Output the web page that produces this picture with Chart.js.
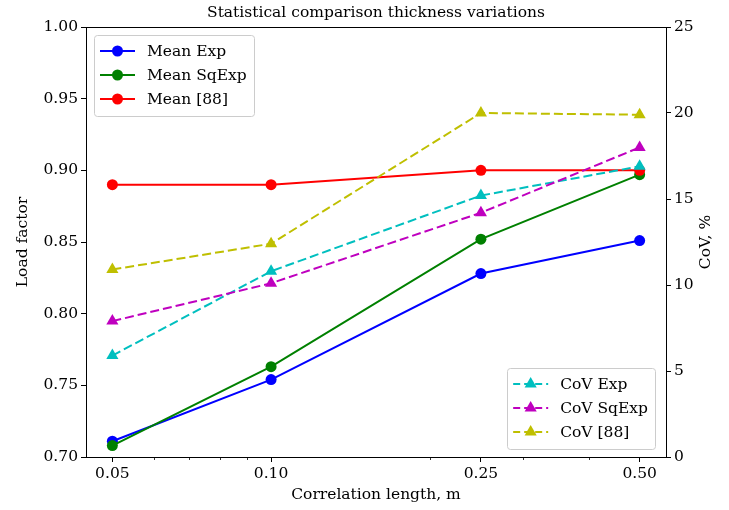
<!DOCTYPE html>
<html>
<head>
<meta charset="utf-8">
<title>Statistical comparison thickness variations</title>
<script src="https://cdn.jsdelivr.net/npm/chart.js@4.4.0/dist/chart.umd.min.js"></script>
<style>
    html, body { margin: 0; padding: 0; background: #fff; }
    #wrap { width: 729px; height: 510px; }
</style>
</head>
<body>
<div id="wrap"><canvas id="thicknessChart" width="729" height="510"></canvas></div>
<script>
'use strict';

// correlation length, m
var corrLengths = [0.05, 0.10, 0.25, 0.50];

// mean load factor
var meanExp   = [0.711, 0.754, 0.828, 0.851];
var meanSqExp = [0.708, 0.763, 0.852, 0.897];
var meanRef   = [0.890, 0.890, 0.900, 0.900];

// coefficient of variation, %
var covExp   = [5.9, 10.8, 15.2, 16.9];
var covSqExp = [7.9, 10.1, 14.2, 18.0];
var covRef   = [10.9, 12.4, 20.0, 19.9];

// tick values
var xMajorTicks = [0.05, 0.10, 0.25, 0.50];
var xMinorTicks = [0.06, 0.07, 0.08, 0.09, 0.2, 0.3, 0.4];
var loadTicks = [0.70, 0.75, 0.80, 0.85, 0.90, 0.95, 1.00];
var covTicks = [0, 5, 10, 15, 20, 25];

var FONT = "'DejaVu Serif', serif";
var FONT_SIZE = 15.5;

function toPoints(values){
    return corrLengths.map(function(x, i){ return {x: x, y: values[i]}; });
}

function meanSet(label, color, values, order){
    return {
        label: label, data: toPoints(values), yAxisID: 'y',
        borderColor: color, backgroundColor: color, borderWidth: 2,
        pointStyle: 'circle', pointRadius: 5.5, pointBorderWidth: 0,
        order: order, legendGroup: 0
    };
}

function covSet(label, color, values, order){
    return {
        label: label, data: toPoints(values), yAxisID: 'y1',
        borderColor: color, backgroundColor: color, borderWidth: 2,
        borderDash: [9, 4],
        pointStyle: 'triangle', pointRadius: 7, pointBorderWidth: 0,
        order: order, legendGroup: 1
    };
}

// frame, minor ticks, titles and the two legends
var decorPlugin = {
    id: 'decor',
    afterDraw: function(chart){
        var ctx = chart.ctx;
        var area = chart.chartArea;
        var xScale = chart.scales.x;

        ctx.save();
        ctx.strokeStyle = '#000';
        ctx.lineWidth = 1;
        ctx.strokeRect(Math.round(area.left) + 0.5, Math.round(area.top) + 0.5,
                       Math.round(area.right - area.left), Math.round(area.bottom - area.top));

        // minor ticks on the log axis
        ctx.lineWidth = 0.8;
        xMinorTicks.forEach(function(v){
            var px = Math.round(xScale.getPixelForValue(v)) + 0.5;
            ctx.beginPath();
            ctx.moveTo(px, area.bottom);
            ctx.lineTo(px, area.bottom + 3);
            ctx.stroke();
        });

        // chart title
        ctx.fillStyle = '#000';
        ctx.font = FONT_SIZE + 'px ' + FONT;
        ctx.textAlign = 'center';
        ctx.textBaseline = 'middle';
        ctx.fillText('Statistical comparison thickness variations', (area.left + area.right) / 2, area.top - 14);

        // right axis title, reading upwards
        ctx.save();
        ctx.translate(area.right + 40, (area.top + area.bottom) / 2);
        ctx.rotate(-Math.PI / 2);
        ctx.fillText('CoV, %', 0, 0);
        ctx.restore();

        var sets = chart.data.datasets;
        drawLegend(ctx, sets.filter(function(d){ return d.legendGroup === 0; }), area.left + 8, area.top + 8, false);
        drawLegend(ctx, sets.filter(function(d){ return d.legendGroup === 1; }), area.right - 11, area.bottom - 8, true);
        ctx.restore();
    }
};

function drawLegend(ctx, sets, anchorX, anchorY, fromBottomRight){
    var rowH = 24, padL = 6, handleW = 35, gap = 12, padR = 7, padV = 2;
    ctx.font = FONT_SIZE + 'px ' + FONT;
    var textW = 0;
    sets.forEach(function(d){ textW = Math.max(textW, ctx.measureText(d.label).width); });
    var w = padL + handleW + gap + textW + padR;
    var h = rowH * sets.length + padV * 2 + 5;
    var x = fromBottomRight ? anchorX - w : anchorX;
    var y = fromBottomRight ? anchorY - h : anchorY;

    ctx.fillStyle = 'rgba(255,255,255,0.8)';
    ctx.strokeStyle = '#cccccc';
    ctx.lineWidth = 1;
    ctx.beginPath();
    ctx.roundRect(Math.round(x) + 0.5, Math.round(y) + 0.5, Math.round(w), Math.round(h), 3);
    ctx.fill();
    ctx.stroke();

    sets.forEach(function(d, i){
        var cy = y + padV + 2 + rowH * i + rowH / 2;
        var hx = x + padL;
        ctx.strokeStyle = d.borderColor;
        ctx.fillStyle = d.backgroundColor;
        ctx.lineWidth = d.borderWidth;
        ctx.setLineDash(d.borderDash ? [7, 4] : []);
        ctx.beginPath();
        ctx.moveTo(hx, cy);
        ctx.lineTo(hx + handleW, cy);
        ctx.stroke();
        ctx.setLineDash([]);
        Chart.helpers.drawPoint(ctx, {
            pointStyle: d.pointStyle, rotation: 0, radius: d.pointRadius, borderWidth: 0
        }, hx + handleW / 2, cy);

        ctx.fillStyle = '#000';
        ctx.textAlign = 'left';
        ctx.textBaseline = 'middle';
        ctx.fillText(d.label, hx + handleW + gap, cy + 1);
    });
}

var tickFont = {family: FONT, size: FONT_SIZE};

var ctx = document.getElementById('thicknessChart').getContext('2d');
window.thicknessChart = new Chart(ctx, {
    type: 'line',
    data: {
        datasets: [
            meanSet('Mean Exp', '#0000ff', meanExp, 6),
            meanSet('Mean SqExp', '#008000', meanSqExp, 5),
            meanSet('Mean [88]', '#ff0000', meanRef, 4),
            covSet('CoV Exp', '#00bfbf', covExp, 3),
            covSet('CoV SqExp', '#bf00bf', covSqExp, 2),
            covSet('CoV [88]', '#bfbf00', covRef, 1)
        ]
    },
    options: {
        responsive: false,
        animation: false,
        devicePixelRatio: 1,
        layout: {padding: {top: 27, left: 0, right: 0, bottom: 0}},
        plugins: {
            legend: {display: false},
            tooltip: {enabled: false},
            title: {display: false}
        },
        scales: {
            x: {
                type: 'logarithmic',
                bounds: 'data',
                min: 0.05 * Math.pow(10, -0.05),
                max: 0.5 * Math.pow(10, 0.05),
                afterBuildTicks: function(scale){
                    scale.ticks = xMajorTicks.map(function(v){ return {value: v}; });
                },
                afterFit: function(scale){ scale.height = 53; },
                ticks: {
                    autoSkip: false, maxRotation: 0, padding: 3,
                    color: '#000', font: tickFont,
                    callback: function(v){ return Number(v).toFixed(2); }
                },
                grid: {drawOnChartArea: false, tickLength: 5, color: '#000'},
                border: {display: true, color: '#000'},
                title: {
                    display: true, text: 'Correlation length, m', color: '#000',
                    font: tickFont, padding: {top: 0, bottom: 6}
                }
            },
            y: {
                position: 'left',
                min: 0.70, max: 1.00,
                afterBuildTicks: function(scale){
                    scale.ticks = loadTicks.map(function(v){ return {value: v}; });
                },
                afterFit: function(scale){ scale.width = 86; },
                ticks: {
                    padding: 3, color: '#000', font: tickFont,
                    callback: function(v){ return Number(v).toFixed(2); }
                },
                grid: {drawOnChartArea: false, tickLength: 5, color: '#000'},
                border: {display: true, color: '#000'},
                title: {
                    display: true, text: 'Load factor', color: '#000',
                    font: tickFont, padding: {top: 14, bottom: 0}
                }
            },
            y1: {
                position: 'right',
                min: 0, max: 25,
                afterBuildTicks: function(scale){
                    scale.ticks = covTicks.map(function(v){ return {value: v}; });
                },
                afterFit: function(scale){ scale.width = 63; },
                ticks: {padding: 3, color: '#000', font: tickFont},
                grid: {drawOnChartArea: false, tickLength: 5, color: '#000'},
                border: {display: true, color: '#000'}
            }
        }
    },
    plugins: [decorPlugin]
});
</script>
</body>
</html>
